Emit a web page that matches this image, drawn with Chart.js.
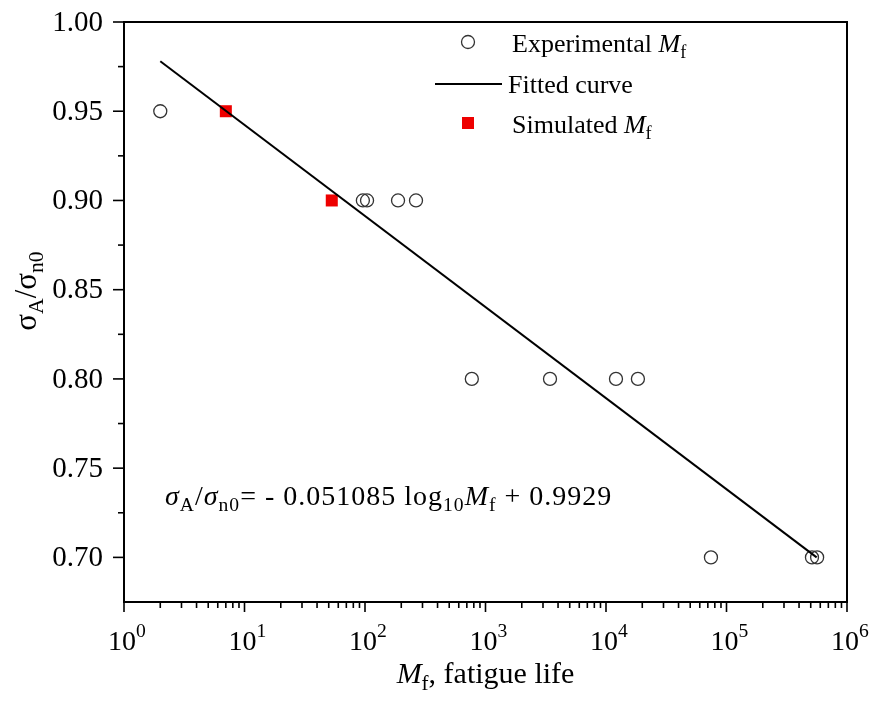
<!DOCTYPE html>
<html lang="en">
<head>
  <meta charset="UTF-8">
  <title>Fatigue life vs stress ratio</title>
  <script src="https://cdn.jsdelivr.net/npm/chart.js"></script>
  <style>
    html, body { margin: 0; padding: 0; background: #fff; }
    #wrap { width: 870px; height: 701px; position: relative; }
  </style>
</head>
<body>
  <div id="wrap"><canvas id="fatigueChart"></canvas></div>
  <script>
    // Experimental fatigue life at each stress ratio
    const expLife = [2, 96, 104, 188, 265, 770, 3430, 12100, 18400, 74300, 512000, 565000];
    const expRatio = [0.95, 0.90, 0.90, 0.90, 0.90, 0.80, 0.80, 0.80, 0.80, 0.70, 0.70, 0.70];

    // Simulated fatigue life
    const simLife = [7, 53];
    const simRatio = [0.95, 0.90];

    // Fitted line end points
    const fitLife = [2, 560000];
    const fitRatio = [0.978, 0.700];

    const xDecades = [0, 1, 2, 3, 4, 5, 6];
    const yTicks = [0.70, 0.75, 0.80, 0.85, 0.90, 0.95, 1.00];
    const yMinorTicks = [0.725, 0.775, 0.825, 0.875, 0.925, 0.975];

    const FONT = '"Liberation Serif", "Times New Roman", serif';

    const pts = (xs, ys) => xs.map((x, i) => ({ x: x, y: ys[i] }));

    // draw text made of runs: {t, it, sub, sup}
    function runsWidth(ctx, runs, size) {
      let w = 0;
      runs.forEach(r => {
        const s = (r.sub || r.sup) ? size * 0.7 : size;
        ctx.font = (r.it ? 'italic ' : '') + s + 'px ' + FONT;
        w += ctx.measureText(r.t).width;
      });
      return w;
    }
    function drawRuns(ctx, x, y, runs, size, spacing) {
      ctx.textBaseline = 'alphabetic';
      ctx.textAlign = 'left';
      ctx.letterSpacing = (spacing || 0) + 'px';
      runs.forEach(r => {
        const s = (r.sub || r.sup) ? size * 0.7 : size;
        ctx.font = (r.it ? 'italic ' : '') + s + 'px ' + FONT;
        let dy = 0;
        if (r.sub) dy = size * 0.22;
        if (r.sup) dy = -size * 0.45;
        ctx.fillText(r.t, x, y + dy);
        x += ctx.measureText(r.t).width;
      });
      ctx.letterSpacing = '0px';
    }

    const decorPlugin = {
      id: 'decor',
      afterDraw(chart) {
        const ctx = chart.ctx;
        const xs = chart.scales.x, ys = chart.scales.y;
        const a = chart.chartArea;
        ctx.save();
        ctx.strokeStyle = '#000';
        ctx.fillStyle = '#000';
        ctx.lineWidth = 2;
        ctx.strokeRect(a.left, a.top, a.right - a.left, a.bottom - a.top);

        // x ticks (log, major + minor)
        ctx.lineWidth = 1.6;
        xDecades.forEach(d => {
          const px = xs.getPixelForValue(Math.pow(10, d));
          ctx.beginPath(); ctx.moveTo(px, a.bottom); ctx.lineTo(px, a.bottom + 10); ctx.stroke();
          if (d < 6) {
            for (let m = 2; m <= 9; m++) {
              const mx = xs.getPixelForValue(m * Math.pow(10, d));
              ctx.beginPath(); ctx.moveTo(mx, a.bottom); ctx.lineTo(mx, a.bottom + 6); ctx.stroke();
            }
          }
          const runs = [{ t: '10' }, { t: String(d), sup: true }];
          const w = runsWidth(ctx, runs, 28);
          ctx.fillStyle = '#000';
          drawRuns(ctx, px - w / 2 + 3, 650, runs, 28);
        });

        // y ticks
        yTicks.forEach(v => {
          const py = ys.getPixelForValue(v);
          ctx.beginPath(); ctx.moveTo(a.left, py); ctx.lineTo(a.left - 11, py); ctx.stroke();
          ctx.font = '29px ' + FONT;
          ctx.textAlign = 'right';
          ctx.textBaseline = 'middle';
          ctx.fillText(v.toFixed(2), a.left - 21, py + 1);
        });
        yMinorTicks.forEach(v => {
          const py = ys.getPixelForValue(v);
          ctx.beginPath(); ctx.moveTo(a.left, py); ctx.lineTo(a.left - 6, py); ctx.stroke();
        });

        // axis titles
        const xt = [{ t: 'M', it: true }, { t: 'f', sub: true }, { t: ', fatigue life' }];
        const xw = runsWidth(ctx, xt, 30);
        drawRuns(ctx, (a.left + a.right) / 2 - xw / 2, 683, xt, 30);

        const yt = [{ t: 'σ' }, { t: 'A', sub: true }, { t: '/σ' }, { t: 'n0', sub: true }];
        const yw = runsWidth(ctx, yt, 31);
        ctx.save();
        ctx.translate(36, 291);
        ctx.rotate(-Math.PI / 2);
        drawRuns(ctx, -yw / 2, 0, yt, 31);
        ctx.restore();

        // equation
        drawRuns(ctx, 165, 505, [
          { t: 'σ', it: true }, { t: 'A', sub: true }, { t: '/' }, { t: 'σ', it: true }, { t: 'n0', sub: true },
          { t: '= - 0.051085 log' }, { t: '10', sub: true }, { t: 'M', it: true }, { t: 'f', sub: true },
          { t: ' + 0.9929' }
        ], 28, 1);

        // legend
        ctx.strokeStyle = '#333';
        ctx.lineWidth = 1.3;
        ctx.beginPath(); ctx.arc(468, 42, 6.5, 0, Math.PI * 2); ctx.stroke();
        ctx.strokeStyle = '#000';
        ctx.lineWidth = 2;
        ctx.beginPath(); ctx.moveTo(435, 84); ctx.lineTo(502, 84); ctx.stroke();
        ctx.fillStyle = '#ee0000';
        ctx.fillRect(462, 117, 12, 12);
        ctx.fillStyle = '#000';
        drawRuns(ctx, 512, 52, [{ t: 'Experimental ' }, { t: 'M', it: true }, { t: 'f', sub: true }], 26);
        drawRuns(ctx, 508, 93, [{ t: 'Fitted curve' }], 26);
        drawRuns(ctx, 512, 133, [{ t: 'Simulated ' }, { t: 'M', it: true }, { t: 'f', sub: true }], 26);
        ctx.restore();
      }
    };

    new Chart(document.getElementById('fatigueChart'), {
      type: 'scatter',
      data: {
        datasets: [
          {
            label: 'Fitted curve',
            data: pts(fitLife, fitRatio),
            showLine: true,
            borderColor: '#000',
            borderWidth: 2,
            pointRadius: 0
          },
          {
            label: 'Experimental Mf',
            data: pts(expLife, expRatio),
            pointStyle: 'circle',
            pointRadius: 6.5,
            pointBorderWidth: 1.3,
            borderColor: '#333',
            backgroundColor: 'rgba(0,0,0,0)'
          },
          {
            label: 'Simulated Mf',
            data: pts(simLife, simRatio),
            pointStyle: 'rect',
            pointRadius: 8.5,
            pointBorderWidth: 0,
            borderColor: '#ee0000',
            backgroundColor: '#ee0000'
          }
        ]
      },
      options: {
        responsive: true,
        maintainAspectRatio: false,
        animation: false,
        layout: { padding: { left: 124, top: 22, right: 23, bottom: 99 } },
        plugins: { legend: { display: false }, tooltip: { enabled: false } },
        scales: {
          x: { type: 'logarithmic', min: 1, max: 1e6, display: false },
          y: { type: 'linear', min: 0.675, max: 1.0, display: false }
        }
      },
      plugins: [decorPlugin]
    });
  </script>
</body>
</html>
